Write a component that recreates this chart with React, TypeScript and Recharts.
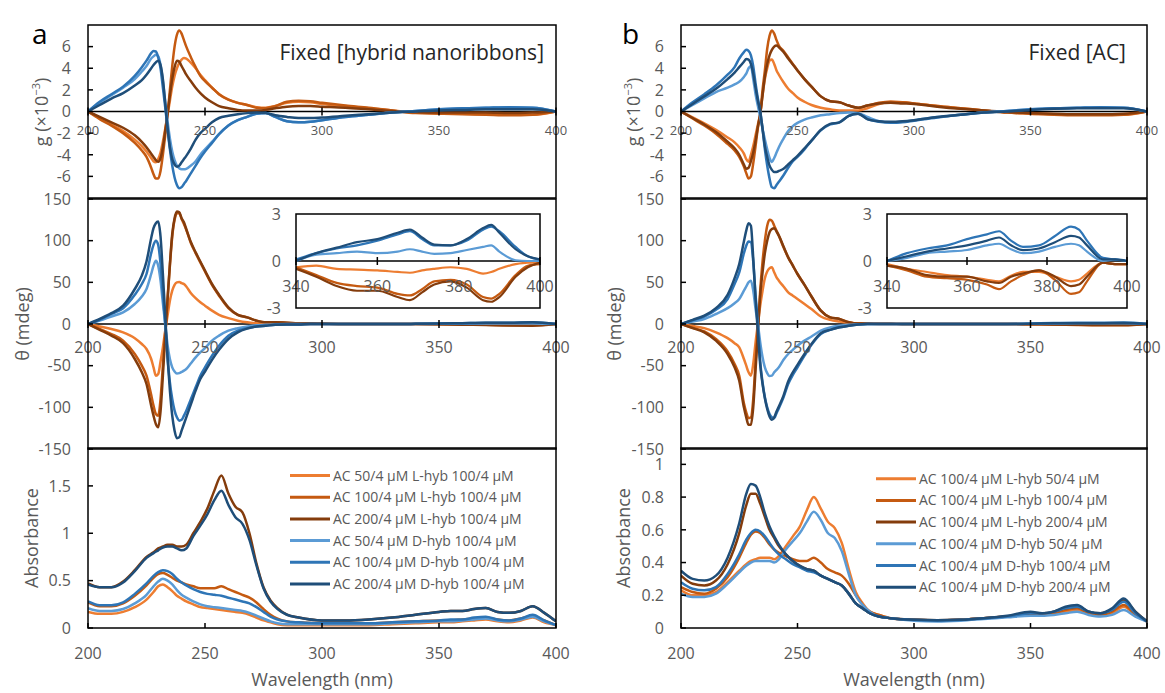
import React from 'react';
import { LineChart, Line, XAxis, YAxis, ReferenceLine } from 'recharts';

// ---------- wavelength grids ----------
const WL_CD = [200, 205, 210, 215, 220, 223, 225, 227, 228, 229, 230, 231, 232, 233, 234, 235, 236, 237, 238, 239, 240, 241, 242, 244, 246, 248, 250, 253, 256, 260, 264, 268, 272, 276, 280, 285, 290, 295, 300, 310, 320, 330, 340, 350, 360, 370, 380, 390, 400];
const WL_ABS = [200, 205, 210, 215, 220, 225, 228, 230, 232, 234, 236, 238, 240, 242, 245, 248, 251, 254, 257, 260, 263, 266, 269, 272, 275, 278, 281, 285, 290, 300, 310, 320, 330, 340, 350, 355, 360, 365, 370, 375, 380, 385, 390, 395, 400];
const WL_INSET = [340, 345, 350, 355, 360, 365, 368, 371, 374, 378, 382, 386, 388, 390, 394, 397, 400];

// ---------- tick labels ----------
const X_TICKS = [200, 250, 300, 350, 400];
const INSET_X_TICKS = [340, 360, 380, 400];
const G_TICKS = [-6, -4, -2, 0, 2, 4, 6];
const THETA_TICKS = [-150, -100, -50, 0, 50, 100, 150];
const INSET_Y_TICKS = [-3, 0, 3];
const ABS_A_TICKS = [0, 0.5, 1, 1.5];
const ABS_B_TICKS = [0, 0.2, 0.4, 0.6, 0.8, 1];

// ---------- series names ----------
const NAMES_A = ['AC 50/4 μM L-hyb 100/4 μM', 'AC 100/4 μM L-hyb 100/4 μM', 'AC 200/4 μM L-hyb 100/4 μM', 'AC 50/4 μM D-hyb 100/4 μM', 'AC 100/4 μM D-hyb 100/4 μM', 'AC 200/4 μM D-hyb 100/4 μM'];
const NAMES_B = ['AC 100/4 μM L-hyb 50/4 μM', 'AC 100/4 μM L-hyb 100/4 μM', 'AC 100/4 μM L-hyb 200/4 μM', 'AC 100/4 μM D-hyb 50/4 μM', 'AC 100/4 μM D-hyb 100/4 μM', 'AC 100/4 μM D-hyb 200/4 μM'];
const COLORS = ['#ED7D31', '#C55A11', '#843C0C', '#5B9BD5', '#2E75B6', '#1F4E79'];

// ---------- panel a : g factor (x10^-3) ----------
const A_G_O1 = [0, -0.6, -1.2, -1.8, -2.6, -3.2, -3.7, -4.3, -4.6, -4.7, -4.4, -3.8, -2.8, -1.6, -0.3, 1.0, 2.3, 3.3, 4.0, 4.5, 4.8, 4.95, 4.9, 4.5, 4.0, 3.4, 2.9, 2.2, 1.6, 1.1, 0.8, 0.6, 0.4, 0.35, 0.5, 0.8, 0.9, 0.85, 0.7, 0.5, 0.3, 0.1, -0.1, -0.15, -0.2, -0.25, -0.25, -0.3, 0];
const A_G_O2 = [0, -0.7, -1.3, -2.0, -2.9, -3.6, -4.2, -5.2, -5.8, -6.2, -6.2, -5.5, -4.0, -2.2, -0.3, 2.0, 4.2, 6.0, 7.1, 7.5, 7.2, 6.6, 6.0, 5.0, 4.1, 3.3, 2.8, 2.2, 1.6, 1.1, 0.8, 0.6, 0.35, 0.3, 0.5, 0.9, 1.0, 0.95, 0.8, 0.55, 0.35, 0.1, -0.15, -0.2, -0.25, -0.3, -0.35, -0.3, 0];
const A_G_O3 = [0, -0.5, -1.0, -1.5, -2.2, -2.8, -3.3, -3.9, -4.2, -4.5, -4.65, -4.3, -3.3, -1.8, -0.2, 1.5, 3.0, 4.1, 4.7, 4.6, 4.2, 3.8, 3.4, 2.8, 2.2, 1.7, 1.3, 0.85, 0.5, 0.3, 0.15, 0.1, 0.1, 0.15, 0.3, 0.45, 0.5, 0.5, 0.45, 0.35, 0.2, 0.05, -0.05, -0.1, -0.1, -0.1, -0.15, -0.1, 0];
const A_G_B1 = [0, 0.8, 1.5, 2.2, 3.0, 3.7, 4.2, 4.9, 5.1, 5.25, 5.1, 4.3, 2.8, 0.9, -0.9, -2.5, -3.7, -4.5, -5.0, -5.25, -5.35, -5.35, -5.3, -5.0, -4.6, -4.0, -3.5, -2.8, -2.1, -1.3, -0.8, -0.5, -0.2, -0.15, -0.5, -0.9, -1.0, -0.95, -0.8, -0.5, -0.3, -0.1, 0.05, 0.2, 0.3, 0.35, 0.4, 0.35, 0];
const A_G_B2 = [0, 0.9, 1.6, 2.3, 3.3, 4.1, 4.7, 5.4, 5.6, 5.55, 5.0, 4.0, 2.2, 0.4, -1.6, -3.5, -5.0, -6.1, -6.8, -7.1, -7.0, -6.7, -6.4, -5.7, -5.0, -4.3, -3.7, -2.9, -2.1, -1.3, -0.8, -0.5, -0.2, -0.15, -0.5, -0.9, -1.0, -0.95, -0.8, -0.5, -0.3, -0.1, 0.05, 0.2, 0.3, 0.35, 0.4, 0.35, 0];
const A_G_B3 = [0, 0.6, 1.2, 1.7, 2.4, 2.9, 3.4, 4.0, 4.3, 4.55, 4.7, 4.3, 3.0, 0.8, -1.5, -3.3, -4.4, -4.9, -5.1, -5.0, -4.7, -4.4, -4.1, -3.4, -2.6, -2.0, -1.6, -1.0, -0.6, -0.4, -0.25, -0.15, -0.1, -0.15, -0.35, -0.5, -0.6, -0.6, -0.55, -0.4, -0.25, -0.1, 0, 0.1, 0.15, 0.2, 0.2, 0.2, 0];

// ---------- panel a : CD theta (mdeg) ----------
const A_T_O1 = [0, -3, -6, -10, -17, -24, -30, -42, -52, -62, -60, -45, -28, -8, 10, 28, 40, 47, 50, 50.5, 49, 48, 45, 37, 31, 26, 22, 16, 11, 7, 4, 2, 1, 0.5, 0.3, 0, 0, 0, 0, 0, 0, 0, 0, 0, -0.3, -0.5, -0.5, -0.5, 0];
const A_T_O2 = [0, -6, -12, -20, -36, -50, -62, -85, -98, -108, -110, -90, -50, -10, 30, 70, 105, 125, 133, 133, 126, 120, 113, 97, 85, 74, 63, 47, 34, 19, 11, 8, 4, 2, 2, 1.5, 1, 0.8, 0.5, 0, 0, 0, 0, -0.3, -0.5, -1, -1.5, -1.5, 0];
const A_T_O3 = [0, -7, -14, -23, -42, -58, -72, -98, -110, -120, -124, -105, -62, -15, 30, 72, 108, 127, 135, 134, 127, 122, 114, 98, 86, 75, 64, 48, 35, 20, 11, 8, 4, 2, 2, 1.5, 1, 0.8, 0.5, 0, 0, 0, 0, -0.3, -0.8, -1.2, -1.8, -2, 0];
const A_T_B1 = [0, 4, 9, 14, 24, 33, 42, 60, 70, 76, 70, 52, 25, 0, -25, -42, -52, -57, -59.5, -59, -57.5, -56, -54, -47, -40, -34, -29, -20, -14, -8, -5, -3, -1.5, -1, -0.5, 0, 0, 0, 0, 0, 0, 0, 0, 0.2, 0.4, 0.5, 0.5, 0.7, 0];
const A_T_B2 = [0, 5, 12, 19, 35, 48, 60, 85, 95, 100, 95, 72, 35, 0, -40, -70, -90, -104, -112, -116, -115, -110, -104, -90, -76, -62, -52, -38, -26, -14, -8, -5, -3, -2, -1, -0.5, -0.5, 0, 0, 0, 0, 0, 0.2, 0.5, 1, 1.5, 1.5, 2, 0];
const A_T_B3 = [0, 6, 13, 22, 42, 58, 75, 103, 115, 121, 123, 105, 60, 10, -40, -80, -110, -128, -137, -136, -128, -120, -112, -96, -80, -66, -57, -43, -31, -18, -10, -5.6, -3, -2, -1, -0.5, -0.5, 0, 0, 0, 0, 0, 0.2, 0.5, 1, 1.5, 1.5, 2, 0];

// ---------- panel a : inset (mdeg, 340-400 nm) ----------
const A_I_O1 = [-0.4, -0.3, -0.5, -0.55, -0.6, -0.7, -0.75, -0.6, -0.5, -0.4, -0.5, -0.8, -0.7, -0.5, -0.2, -0.1, -0.1];
const A_I_O2 = [-0.4, -0.9, -1.4, -1.6, -1.7, -2.1, -2.2, -1.8, -1.3, -1.2, -1.5, -2.3, -2.4, -2.1, -0.9, -0.3, -0.2];
const A_I_O3 = [-0.5, -1.0, -1.6, -1.9, -1.9, -2.3, -2.5, -2.0, -1.5, -1.3, -1.7, -2.5, -2.6, -2.3, -1.0, -0.4, -0.1];
const A_I_B1 = [0, 0.4, 0.5, 0.6, 0.5, 0.6, 0.75, 0.6, 0.45, 0.5, 0.7, 0.9, 1.0, 0.6, 0.05, 0, 0];
const A_I_B2 = [0.1, 0.5, 0.8, 1.0, 1.3, 1.7, 1.9, 1.4, 1.0, 1.0, 1.3, 2.0, 2.2, 1.9, 0.9, 0.3, 0.1];
const A_I_B3 = [0, 0.5, 0.85, 1.2, 1.4, 1.8, 2.0, 1.5, 1.05, 1.0, 1.4, 2.1, 2.3, 1.8, 0.75, 0.3, 0.1];

// ---------- panel a : absorbance ----------
const A_A_O1 = [0.17, 0.15, 0.15, 0.17, 0.22, 0.3, 0.38, 0.44, 0.46, 0.43, 0.39, 0.34, 0.31, 0.28, 0.25, 0.22, 0.21, 0.2, 0.19, 0.18, 0.17, 0.16, 0.14, 0.11, 0.08, 0.06, 0.04, 0.03, 0.03, 0.03, 0.03, 0.03, 0.04, 0.05, 0.06, 0.06, 0.07, 0.08, 0.09, 0.07, 0.06, 0.08, 0.11, 0.06, 0.03];
const A_A_O2 = [0.27, 0.23, 0.23, 0.26, 0.34, 0.45, 0.53, 0.57, 0.58, 0.56, 0.53, 0.5, 0.48, 0.46, 0.44, 0.42, 0.42, 0.42, 0.44, 0.41, 0.38, 0.35, 0.32, 0.27, 0.2, 0.14, 0.1, 0.07, 0.06, 0.05, 0.05, 0.05, 0.06, 0.07, 0.08, 0.08, 0.09, 0.1, 0.11, 0.09, 0.08, 0.1, 0.13, 0.08, 0.03];
const A_A_O3 = [0.47, 0.43, 0.43, 0.49, 0.61, 0.75, 0.8, 0.84, 0.86, 0.88, 0.88, 0.86, 0.86, 0.88, 1.0, 1.12, 1.26, 1.45, 1.61, 1.42, 1.28, 1.22, 1.0, 0.68, 0.43, 0.29, 0.21, 0.14, 0.11, 0.08, 0.08, 0.09, 0.11, 0.14, 0.17, 0.18, 0.18, 0.2, 0.21, 0.17, 0.16, 0.18, 0.23, 0.16, 0.07];
const A_A_B1 = [0.21, 0.18, 0.18, 0.2, 0.26, 0.35, 0.44, 0.49, 0.52, 0.5, 0.46, 0.4, 0.35, 0.32, 0.28, 0.25, 0.23, 0.22, 0.21, 0.2, 0.19, 0.18, 0.16, 0.13, 0.1, 0.07, 0.05, 0.04, 0.04, 0.04, 0.04, 0.04, 0.05, 0.06, 0.07, 0.07, 0.08, 0.09, 0.1, 0.08, 0.07, 0.09, 0.12, 0.07, 0.03];
const A_A_B2 = [0.28, 0.24, 0.24, 0.27, 0.36, 0.47, 0.55, 0.59, 0.61, 0.6, 0.57, 0.52, 0.48, 0.45, 0.41, 0.38, 0.36, 0.35, 0.34, 0.32, 0.3, 0.28, 0.26, 0.22, 0.17, 0.12, 0.09, 0.07, 0.06, 0.05, 0.05, 0.05, 0.06, 0.07, 0.08, 0.09, 0.09, 0.11, 0.12, 0.09, 0.08, 0.1, 0.14, 0.08, 0.03];
const A_A_B3 = [0.46, 0.43, 0.43, 0.48, 0.6, 0.74, 0.79, 0.82, 0.85, 0.86, 0.86, 0.84, 0.82, 0.84, 0.97, 1.08, 1.2, 1.35, 1.45, 1.3, 1.17, 1.1, 0.93, 0.66, 0.42, 0.28, 0.2, 0.14, 0.11, 0.08, 0.08, 0.09, 0.11, 0.14, 0.17, 0.18, 0.18, 0.2, 0.21, 0.17, 0.16, 0.18, 0.23, 0.16, 0.07];

// ---------- panel b : g factor (x10^-3) ----------
const B_G_O1 = [0, -0.55, -1.1, -1.7, -2.4, -2.85, -3.3, -3.9, -4.4, -4.65, -4.0, -3.2, -2.2, -1.2, -0.2, 1.5, 3.0, 4.0, 4.7, 4.8, 4.4, 3.8, 3.4, 2.7, 2.1, 1.7, 1.3, 0.9, 0.6, 0.35, 0.2, 0.1, 0.1, 0.1, 0.3, 0.7, 0.9, 0.85, 0.75, 0.5, 0.3, 0.1, -0.1, -0.2, -0.25, -0.3, -0.3, -0.3, 0];
const B_G_O2 = [0, -0.65, -1.3, -2.05, -3.0, -3.6, -4.2, -5.1, -5.7, -6.2, -6.0, -4.8, -3.2, -1.5, -0.3, 2.0, 3.8, 5.8, 7.0, 7.5, 7.2, 6.6, 6.1, 5.6, 5.0, 4.4, 3.8, 3.0, 2.3, 1.4, 0.95, 0.85, 0.55, 0.35, 0.55, 0.8, 0.9, 0.85, 0.75, 0.5, 0.3, 0.1, -0.1, -0.2, -0.3, -0.35, -0.35, -0.3, 0];
const B_G_O3 = [0, -0.6, -1.2, -1.9, -2.8, -3.4, -4.0, -4.9, -5.3, -5.2, -4.6, -3.8, -2.7, -1.4, -0.2, 1.5, 3.2, 4.4, 5.2, 5.7, 6.0, 6.1, 5.95, 5.5, 4.9, 4.35, 3.8, 3.0, 2.3, 1.4, 0.95, 0.85, 0.55, 0.35, 0.55, 0.75, 0.8, 0.75, 0.7, 0.45, 0.25, 0.1, -0.05, -0.15, -0.2, -0.25, -0.25, -0.2, 0];
const B_G_B1 = [0, 0.6, 1.2, 1.8, 2.2, 2.5, 2.75, 3.2, 3.5, 4.0, 4.2, 3.0, 1.6, 0.5, -0.5, -1.6, -2.6, -3.5, -4.3, -4.67, -4.3, -3.8, -3.3, -2.5, -1.8, -1.35, -1.05, -0.75, -0.55, -0.35, -0.25, -0.15, -0.1, -0.15, -0.5, -0.9, -1.0, -0.95, -0.8, -0.5, -0.3, -0.1, 0.05, 0.2, 0.3, 0.35, 0.4, 0.35, 0];
const B_G_B2 = [0, 0.85, 1.6, 2.4, 3.4, 4.1, 4.9, 5.5, 5.7, 5.6, 5.2, 4.2, 2.6, 1.2, 0.0, -1.6, -3.5, -5.0, -6.2, -7.0, -7.1, -6.8, -6.5, -5.9, -5.2, -4.6, -4.2, -3.5, -2.7, -1.75, -1.2, -1.0, -0.4, -0.2, -0.7, -0.95, -1.05, -1.0, -0.85, -0.55, -0.3, -0.1, 0.05, 0.2, 0.3, 0.35, 0.4, 0.35, 0];
const B_G_B3 = [0, 0.7, 1.4, 2.1, 3.0, 3.6, 4.1, 4.6, 4.85, 4.8, 4.4, 3.5, 2.2, 1.0, 0.0, -1.6, -3.2, -4.2, -5.0, -5.4, -5.6, -5.6, -5.5, -5.3, -4.9, -4.5, -4.1, -3.4, -2.7, -1.7, -1.15, -1.0, -0.4, -0.2, -0.7, -0.9, -0.95, -0.9, -0.8, -0.5, -0.3, -0.1, 0, 0.15, 0.25, 0.3, 0.3, 0.3, 0];

// ---------- panel b : CD theta (mdeg) ----------
const B_T_O1 = [0, -2.5, -5, -10, -17, -23, -28, -42, -50, -58, -62, -48, -22, 0, 22, 40, 55, 63, 67, 68, 62, 56, 52, 45, 38, 34, 30, 24, 18, 9, 5, 3, 1.5, 0.5, 0.3, 0, 0, 0, 0, 0, 0, 0, 0, -0.2, -0.5, -0.8, -1, -1, 0];
const B_T_O2 = [0, -4.5, -9, -18, -33, -48, -62, -95, -106, -113, -112, -90, -45, -5, 40, 75, 100, 118, 125, 124, 118, 112, 106, 92, 80, 70, 60, 47, 33, 16, 8, 6, 2, 0.5, 0.5, 0.3, 0.3, 0, 0, 0, 0, 0, 0, -0.3, -0.7, -1.2, -1.5, -1.5, 0];
const B_T_O3 = [0, -5, -10, -20, -36, -52, -68, -100, -112, -121, -121, -100, -55, -10, 35, 62, 85, 100, 110, 114, 115, 111, 106, 93, 80, 70, 60, 47, 33, 16, 8, 6, 2, 0.5, 0.5, 0.3, 0.3, 0, 0, 0, 0, 0, 0, -0.3, -0.6, -1, -1.2, -1.2, 0];
const B_T_B1 = [0, 3, 6, 12, 19, 25, 30, 40, 45, 50, 52, 40, 18, 0, -22, -40, -52, -59, -62.5, -62, -58, -55, -52, -43, -36, -31, -26, -20, -15, -8, -4, -2, -1, -0.5, 0, 0, 0, 0, 0, 0, 0, 0, 0, 0.2, 0.5, 0.8, 0.8, 0.8, 0];
const B_T_B2 = [0, 4.5, 9, 17, 30, 48, 62, 85, 94, 99, 98, 75, 35, 0, -45, -70, -88, -100, -108, -112, -113, -107, -101, -88, -72, -61, -52, -38, -25, -12, -7, -4, -2, -0.5, 0, 0, 0, 0, 0, 0, 0, 0, 0, 0.5, 1.2, 1.5, 1.5, 1.8, 0];
const B_T_B3 = [0, 5, 10, 19, 35, 55, 72, 99, 112, 121, 118, 79, 30, -10, -49, -72, -89, -102, -111, -115, -112, -105, -99, -86, -69, -58, -49, -36, -24, -11, -7, -4, -2, -0.5, 0, 0, 0, 0, 0, 0, 0, 0, 0, 0.3, 0.8, 1, 1, 1.2, 0];

// ---------- panel b : inset (mdeg, 340-400 nm) ----------
const B_I_O1 = [-0.2, -0.5, -0.7, -0.9, -1.0, -1.2, -1.3, -0.95, -0.7, -0.7, -1.0, -1.3, -1.2, -0.8, -0.1, -0.2, -0.2];
const B_I_O2 = [-0.3, -0.6, -1.0, -1.1, -1.2, -1.5, -1.8, -1.3, -0.9, -0.6, -1.2, -2.1, -2.0, -1.3, -0.1, -0.2, -0.2];
const B_I_O3 = [-0.3, -0.5, -0.9, -1.0, -1.0, -1.3, -1.4, -1.0, -0.8, -0.6, -1.0, -1.6, -1.5, -1.0, -0.1, -0.2, -0.2];
const B_I_B1 = [0, 0.2, 0.5, 0.6, 0.7, 1.0, 1.1, 0.75, 0.5, 0.6, 0.9, 1.1, 1.0, 0.6, 0, 0.1, 0];
const B_I_B2 = [0, 0.5, 0.8, 1.0, 1.4, 1.7, 1.9, 1.3, 0.9, 1.0, 1.6, 2.2, 2.0, 1.3, 0.2, 0.1, 0];
const B_I_B3 = [0, 0.3, 0.6, 0.8, 1.0, 1.3, 1.5, 1.0, 0.7, 0.8, 1.2, 1.6, 1.5, 1.0, 0.1, 0.1, 0];

// ---------- panel b : absorbance ----------
const B_A_O1 = [0.23, 0.2, 0.2, 0.22, 0.28, 0.35, 0.39, 0.41, 0.42, 0.43, 0.43, 0.43, 0.42, 0.44, 0.5, 0.56, 0.62, 0.72, 0.8, 0.73, 0.65, 0.61, 0.52, 0.36, 0.22, 0.15, 0.1, 0.08, 0.06, 0.05, 0.045, 0.05, 0.06, 0.07, 0.08, 0.08, 0.09, 0.1, 0.11, 0.09, 0.08, 0.09, 0.13, 0.08, 0.04];
const B_A_O2 = [0.25, 0.22, 0.21, 0.24, 0.31, 0.43, 0.52, 0.57, 0.59, 0.58, 0.55, 0.51, 0.48, 0.46, 0.44, 0.42, 0.41, 0.41, 0.43, 0.4, 0.36, 0.34, 0.32, 0.27, 0.2, 0.14, 0.1, 0.08, 0.06, 0.05, 0.045, 0.05, 0.06, 0.07, 0.085, 0.085, 0.09, 0.11, 0.12, 0.09, 0.08, 0.1, 0.14, 0.08, 0.04];
const B_A_O3 = [0.32, 0.27, 0.26, 0.29, 0.39, 0.58, 0.75, 0.82, 0.82, 0.76, 0.68, 0.6, 0.55, 0.5, 0.45, 0.41, 0.38, 0.36, 0.35, 0.32, 0.3, 0.28, 0.26, 0.21, 0.15, 0.12, 0.09, 0.07, 0.06, 0.05, 0.047, 0.05, 0.06, 0.07, 0.09, 0.09, 0.1, 0.12, 0.13, 0.1, 0.09, 0.11, 0.17, 0.1, 0.04];
const B_A_B1 = [0.21, 0.19, 0.19, 0.21, 0.27, 0.34, 0.38, 0.4, 0.41, 0.41, 0.41, 0.41, 0.4, 0.42, 0.48, 0.53, 0.58, 0.65, 0.71, 0.66, 0.58, 0.55, 0.47, 0.33, 0.2, 0.14, 0.1, 0.07, 0.06, 0.045, 0.04, 0.045, 0.055, 0.065, 0.075, 0.075, 0.08, 0.09, 0.1, 0.08, 0.07, 0.08, 0.11, 0.07, 0.04];
const B_A_B2 = [0.28, 0.24, 0.23, 0.25, 0.33, 0.45, 0.54, 0.58, 0.6, 0.59, 0.56, 0.52, 0.48, 0.45, 0.42, 0.39, 0.37, 0.35, 0.34, 0.32, 0.3, 0.28, 0.26, 0.21, 0.15, 0.12, 0.09, 0.07, 0.06, 0.05, 0.045, 0.05, 0.06, 0.07, 0.09, 0.09, 0.1, 0.12, 0.13, 0.1, 0.09, 0.11, 0.16, 0.09, 0.04];
const B_A_B3 = [0.35, 0.3, 0.29, 0.32, 0.43, 0.64, 0.82, 0.88, 0.87, 0.8, 0.7, 0.62, 0.56, 0.51, 0.45, 0.41, 0.38, 0.36, 0.35, 0.32, 0.3, 0.28, 0.26, 0.21, 0.15, 0.12, 0.09, 0.07, 0.06, 0.05, 0.047, 0.05, 0.06, 0.075, 0.1, 0.09, 0.1, 0.13, 0.14, 0.1, 0.09, 0.12, 0.18, 0.1, 0.04];

// ---------- helpers ----------
const FONT = "'Open Sans', 'Noto Sans', 'DejaVu Sans', sans-serif";
const GRAY = '#595959';

function rowsOf(wl: number[], series: number[][]) {
  return wl.map((w, i) => {
    const r: any = { wl: w };
    series.forEach((s, k) => { r['s' + k] = s[i]; });
    return r;
  });
}

const PAD = 12;
const PAD_R = 26;
const YW = 70;

type PanelProps = {
  x: number; y: number; w: number; h: number;
  rows: any[];
  xDomain: [number, number]; xTicks: number[];
  yDomain: [number, number]; yTicks: number[];
  mode: 'zero' | 'bottom';
  xFont: number; xDy: number; yFont: number; yGap: number; yMarks: boolean; sw: number;
};

function Panel(p: PanelProps) {
  const { x, y, w, h, rows, xDomain, xTicks, yDomain, yTicks, mode, xFont, xDy, yFont, yGap, yMarks, sw } = p;
  const bottomExtra = mode === 'bottom' ? 45 : PAD;
  const chartW = YW + w + PAD_R;
  const chartH = PAD + h + bottomExtra;
  const zeroY = PAD + h * (yDomain[1] / (yDomain[1] - yDomain[0]));
  const baseY = mode === 'bottom' ? PAD + h : zeroY;
  const xTick = (tp: any) => (
    <g>
      {mode === 'zero'
        ? <line x1={tp.x} x2={tp.x} y1={baseY - 4} y2={baseY + 4} stroke="#000" strokeWidth={1.5} />
        : <line x1={tp.x} x2={tp.x} y1={baseY - 5} y2={baseY} stroke="#000" strokeWidth={1.5} />}
      <text x={tp.x} y={baseY + xDy} textAnchor="middle" fontSize={xFont} fill={GRAY} fontFamily={FONT}>{tp.payload.value}</text>
    </g>
  );
  const yTick = (tp: any) => (
    <g>
      {yMarks && <line x1={tp.x} x2={tp.x + 5} y1={tp.y} y2={tp.y} stroke="#000" strokeWidth={1.5} />}
      <text x={tp.x - yGap} y={tp.y + yFont * 0.36} textAnchor="end" fontSize={yFont} fill={GRAY} fontFamily={FONT}>{tp.payload.value}</text>
    </g>
  );
  return (
    <div style={{ position: 'absolute', left: x - YW, top: y - PAD }}>
      <LineChart width={chartW} height={chartH} data={rows} margin={{ top: PAD, right: PAD_R, bottom: 0, left: 0 }}>
        <XAxis dataKey="wl" type="number" domain={xDomain} ticks={xTicks} interval={0} allowDataOverflow height={bottomExtra}
          axisLine={false} tickLine={false} tick={xTick} />
        <YAxis type="number" domain={yDomain} ticks={yTicks} interval={0} allowDataOverflow width={YW}
          axisLine={false} tickLine={false} tickSize={0} tickMargin={0} tick={yTick} />
        {mode === 'zero' && <ReferenceLine y={0} stroke="#000" strokeWidth={1.5} />}
        {COLORS.map((c, k) => (
          <Line key={k} type="monotone" dataKey={'s' + k} stroke={c} strokeWidth={sw} dot={false} isAnimationActive={false} />
        ))}
      </LineChart>
    </div>
  );
}

// ---------- layout ----------
const COLS = [
  { x: 88, w: 468, inX: 296, inW: 244 },
  { x: 681, w: 466, inX: 887, inW: 240 },
];
const TOP_Y = 25, TOP_H = 173;
const MID_Y = 199, MID_H = 250;
const BOT_Y = 448, BOT_H = 180;
const IN_Y = 214, IN_H = 94;

function Legend({ x, y, names }: { x: number; y: number; names: string[] }) {
  return (
    <g>
      {names.map((n, i) => (
        <g key={i}>
          <line x1={x} x2={x + 40} y1={y + i * 21.7} y2={y + i * 21.7} stroke={COLORS[i]} strokeWidth={3} />
          <text x={x + 43} y={y + i * 21.7 + 5} fontSize={14} fill={GRAY} fontFamily={FONT}>{n}</text>
        </g>
      ))}
    </g>
  );
}

function YTitle({ x, y, children }: { x: number; y: number; children: any }) {
  return (
    <text transform={`translate(${x},${y}) rotate(-90)`} textAnchor="middle" dominantBaseline="central" fontSize={18} fill={GRAY} fontFamily={FONT}>{children}</text>
  );
}

export default function App() {
  const aG = rowsOf(WL_CD, [A_G_O1, A_G_O2, A_G_O3, A_G_B1, A_G_B2, A_G_B3]);
  const aT = rowsOf(WL_CD, [A_T_O1, A_T_O2, A_T_O3, A_T_B1, A_T_B2, A_T_B3]);
  const aI = rowsOf(WL_INSET, [A_I_O1, A_I_O2, A_I_O3, A_I_B1, A_I_B2, A_I_B3]);
  const aA = rowsOf(WL_ABS, [A_A_O1, A_A_O2, A_A_O3, A_A_B1, A_A_B2, A_A_B3]);
  const bG = rowsOf(WL_CD, [B_G_O1, B_G_O2, B_G_O3, B_G_B1, B_G_B2, B_G_B3]);
  const bT = rowsOf(WL_CD, [B_T_O1, B_T_O2, B_T_O3, B_T_B1, B_T_B2, B_T_B3]);
  const bI = rowsOf(WL_INSET, [B_I_O1, B_I_O2, B_I_O3, B_I_B1, B_I_B2, B_I_B3]);
  const bA = rowsOf(WL_ABS, [B_A_O1, B_A_O2, B_A_O3, B_A_B1, B_A_B2, B_A_B3]);
  const data = [
    { g: aG, t: aT, i: aI, a: aA, absDomain: [0, 1.9] as [number, number], absTicks: ABS_A_TICKS },
    { g: bG, t: bT, i: bI, a: bA, absDomain: [0, 1.1] as [number, number], absTicks: ABS_B_TICKS },
  ];
  return (
    <div style={{ position: 'absolute', left: 0, top: 0, width: 1165, height: 693, background: '#fff', overflow: 'hidden', fontFamily: FONT }}>
      {COLS.map((c, ci) => (
        <React.Fragment key={ci}>
          <Panel x={c.x} y={TOP_Y} w={c.w} h={TOP_H} rows={data[ci].g} xDomain={[200, 400]} xTicks={X_TICKS}
            yDomain={[-8, 8]} yTicks={G_TICKS} mode="zero" xFont={13} xDy={23.5} yFont={16} yGap={17} yMarks sw={2.5} />
          <Panel x={c.x} y={MID_Y} w={c.w} h={MID_H} rows={data[ci].t} xDomain={[200, 400]} xTicks={X_TICKS}
            yDomain={[-150, 150]} yTicks={THETA_TICKS} mode="zero" xFont={16} xDy={29} yFont={16} yGap={17} yMarks sw={2.5} />
          <Panel x={c.inX} y={IN_Y} w={c.inW} h={IN_H} rows={data[ci].i} xDomain={[340, 400]} xTicks={INSET_X_TICKS}
            yDomain={[-3, 3]} yTicks={INSET_Y_TICKS} mode="zero" xFont={16} xDy={31} yFont={16} yGap={15} yMarks={false} sw={2.2} />
          <Panel x={c.x} y={BOT_Y} w={c.w} h={BOT_H} rows={data[ci].a} xDomain={[200, 400]} xTicks={X_TICKS}
            yDomain={data[ci].absDomain} yTicks={data[ci].absTicks} mode="bottom" xFont={16} xDy={31} yFont={16} yGap={17} yMarks sw={2.5} />
        </React.Fragment>
      ))}
      <svg width={1165} height={693} style={{ position: 'absolute', left: 0, top: 0, pointerEvents: 'none' }}>
        {COLS.map((c, ci) => (
          <g key={ci} fill="none" stroke="#000" strokeWidth={1.5}>
            <rect x={c.x} y={TOP_Y} width={c.w} height={TOP_H} />
            <rect x={c.x} y={MID_Y} width={c.w} height={MID_H} />
            <rect x={c.x} y={BOT_Y} width={c.w} height={BOT_H} />
            <rect x={c.inX} y={IN_Y} width={c.inW} height={IN_H} />
          </g>
        ))}
        <text x={32} y={44} fontSize={28} fill="#000" fontFamily={FONT}>a</text>
        <text x={622} y={44} fontSize={28} fill="#000" fontFamily={FONT}>b</text>
        <text x={544} y={60} textAnchor="end" fontSize={21} fill="#262626" fontFamily={FONT}>Fixed [hybrid nanoribbons]</text>
        <text x={1126} y={60} textAnchor="end" fontSize={21} fill="#262626" fontFamily={FONT}>Fixed [AC]</text>
        <YTitle x={41} y={112}><tspan>g (×10</tspan><tspan dy={-6} fontSize={11}>−3</tspan><tspan dy={6}>)</tspan></YTitle>
        <YTitle x={633} y={112}><tspan>g (×10</tspan><tspan dy={-6} fontSize={11}>−3</tspan><tspan dy={6}>)</tspan></YTitle>
        <YTitle x={22} y={324}>θ (mdeg)</YTitle>
        <YTitle x={614} y={324}>θ (mdeg)</YTitle>
        <YTitle x={31} y={538}>Absorbance</YTitle>
        <YTitle x={623} y={538}>Absorbance</YTitle>
        <text x={322} y={686} textAnchor="middle" fontSize={18} fill={GRAY} fontFamily={FONT}>Wavelength (nm)</text>
        <text x={914} y={686} textAnchor="middle" fontSize={18} fill={GRAY} fontFamily={FONT}>Wavelength (nm)</text>
        <Legend x={290} y={475.5} names={NAMES_A} />
        <Legend x={876} y={478.7} names={NAMES_B} />
      </svg>
    </div>
  );
}
